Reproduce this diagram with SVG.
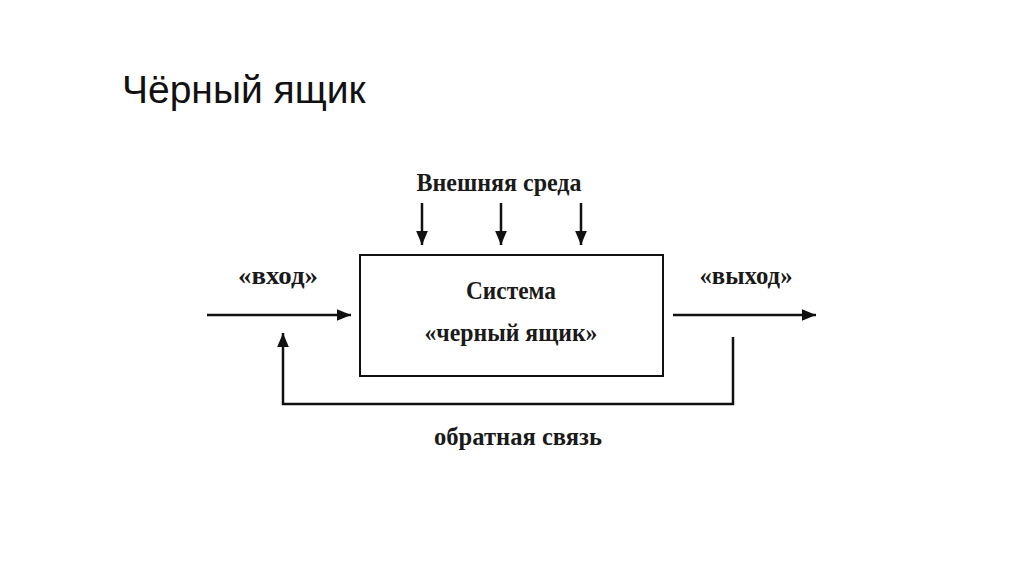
<svg xmlns="http://www.w3.org/2000/svg" width="1024" height="574" viewBox="0 0 1024 574">
<defs>
<style>
.lbl{font-family:"Liberation Serif","DejaVu Serif",serif;font-weight:bold;font-size:25px;fill:#1a1a1a;text-anchor:middle}
.ln{stroke:#111;stroke-width:2.5;fill:none}
</style>
<marker id="arr" viewBox="0 0 12 10" refX="12" refY="5" markerWidth="14" markerHeight="12" orient="auto" markerUnits="userSpaceOnUse">
<path d="M0,0 L12,5 L0,10 Z" fill="#111"/>
</marker>
</defs>
<rect width="1024" height="574" fill="#fff"/>
<text x="122" y="103" font-family="Liberation Sans, Arial, sans-serif" font-size="39" fill="#111">Чёрный ящик</text>
<g id="system">
<rect x="360" y="255" width="303" height="121" fill="#fff" stroke="#111" stroke-width="2"/>
<text class="lbl" x="511" y="299" textLength="90" lengthAdjust="spacingAndGlyphs">Система</text>
<text class="lbl" x="511" y="341" textLength="173" lengthAdjust="spacingAndGlyphs">«черный ящик»</text>
</g>
<g id="env">
<text class="lbl" x="499" y="191" textLength="165" lengthAdjust="spacingAndGlyphs">Внешняя среда</text>
</g>
<g id="input"><text class="lbl" x="278" y="284" textLength="80" lengthAdjust="spacingAndGlyphs">«вход»</text></g>
<g id="output"><text class="lbl" x="746" y="284" textLength="93" lengthAdjust="spacingAndGlyphs">«выход»</text></g>
<g id="feedback"><text class="lbl" x="518" y="445" textLength="168" lengthAdjust="spacingAndGlyphs">обратная связь</text></g>
<g id="connectors">
<line class="ln" x1="422" y1="203" x2="422" y2="245" marker-end="url(#arr)"/>
<line class="ln" x1="501" y1="203" x2="501" y2="245" marker-end="url(#arr)"/>
<line class="ln" x1="581" y1="203" x2="581" y2="245" marker-end="url(#arr)"/>
<line class="ln" x1="207" y1="315" x2="351" y2="315" marker-end="url(#arr)"/>
<line class="ln" x1="673" y1="315" x2="816" y2="315" marker-end="url(#arr)"/>
<polyline class="ln" points="733,337 733,404 283,404 283,333" marker-end="url(#arr)"/>
</g>
</svg>
